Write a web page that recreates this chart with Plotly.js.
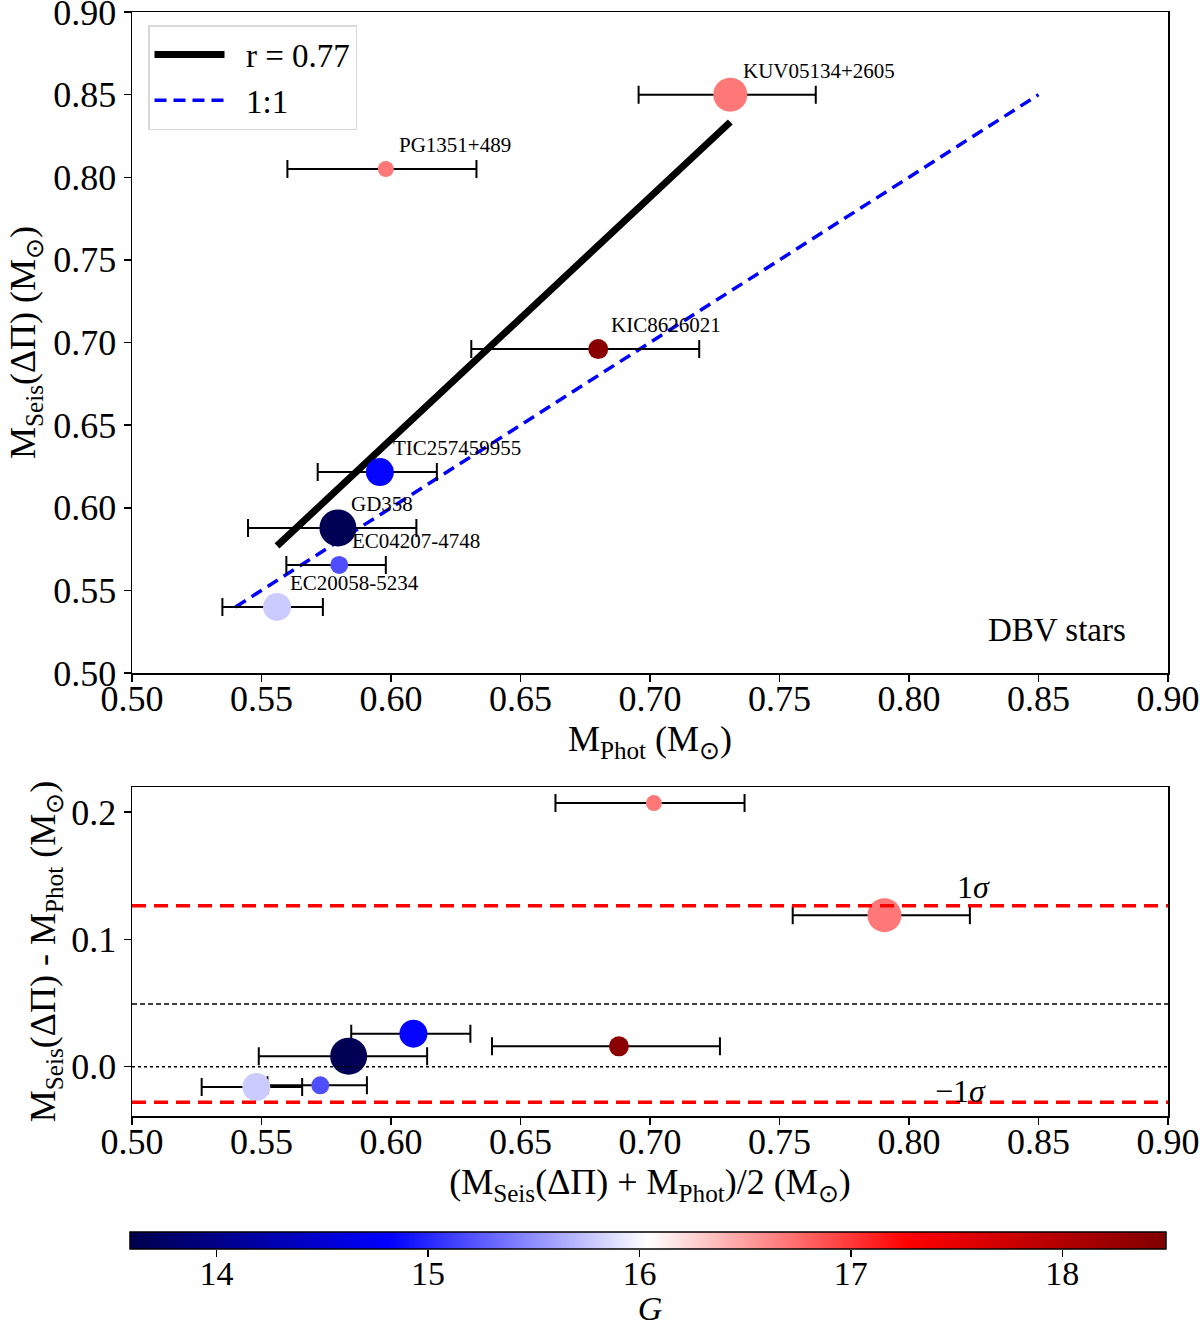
<!DOCTYPE html>
<html>
<head>
<meta charset="utf-8">
<script src="https://cdn.plot.ly/plotly-3.0.1.min.js"></script>
<style>html,body{margin:0;padding:0;background:#fff;overflow:hidden;}</style>
</head>
<body>
<div id="chart" style="width:1200px;height:1327px;"></div>
<script>
// ---- data ----
const starNames = ['KUV05134+2605','PG1351+489','KIC8626021','TIC257459955','GD358','EC04207-4748','EC20058-5234'];
const mPhot    = [0.731, 0.598, 0.680, 0.5957, 0.5795, 0.580, 0.556];
const mSeis    = [0.850, 0.805, 0.696, 0.6216, 0.5878, 0.5654, 0.540];
const errLo    = [0.0354, 0.038, 0.049, 0.024, 0.0347, 0.0204, 0.0211];
const errHi    = [0.033, 0.035, 0.039, 0.022, 0.0303, 0.018, 0.0177];
const gMag     = [16.7, 16.7, 18.4, 14.85, 13.65, 15.2, 15.8];
const markerSz = [34, 16, 20, 28, 37, 18, 28];
const fitX = [0.556, 0.731];
const fitY = [0.5769, 0.8334];
const oneToOne = [0.54, 0.85];
const sigmaLevels = [0.1263, -0.0279];
const meanDiff = 0.0492;
const gRange = [13.6, 18.5];
const xTicks = [0.50,0.55,0.60,0.65,0.70,0.75,0.80,0.85,0.90];
const yTicksTop = [0.50,0.55,0.60,0.65,0.70,0.75,0.80,0.85,0.90];
const yTicksBot = [0.0, 0.1, 0.2];
const cbTicks = [14,15,16,17,18];

// derived for the lower panel
const meanMass = mSeis.map((s,i)=>(s+mPhot[i])/2);
const diffMass = mSeis.map((s,i)=>s-mPhot[i]);

const seismic = [[0,'rgb(0,0,77)'],[0.25,'rgb(0,0,255)'],[0.5,'rgb(255,255,255)'],[0.75,'rgb(255,0,0)'],[1,'rgb(128,0,0)']];
const FONT = 'Liberation Serif, Times New Roman, serif';
const NB = '\u00a0';

const errStyle = {type:'data', symmetric:false, array:errHi, arrayminus:errLo, color:'black', thickness:2, width:9};

const traces = [
  {x:fitX, y:fitY, mode:'lines', name:NB+NB+'r = 0.77', line:{color:'black', width:7}, xaxis:'x', yaxis:'y', hoverinfo:'skip'},
  {x:oneToOne, y:oneToOne, mode:'lines', name:NB+NB+'1:1', line:{color:'#0000ff', width:3.5, dash:'12px,7px'}, xaxis:'x', yaxis:'y'},
  {x:mPhot, y:mSeis, mode:'markers', showlegend:false, xaxis:'x', yaxis:'y', text:starNames,
   error_x:errStyle,
   marker:{size:markerSz, color:gMag, colorscale:seismic, cmin:gRange[0], cmax:gRange[1], line:{width:0}, opacity:1, showscale:false}},
  {x:meanMass, y:diffMass, mode:'markers', showlegend:false, xaxis:'x2', yaxis:'y2', text:starNames,
   error_x:errStyle,
   marker:{size:markerSz, color:gMag, colorscale:seismic, cmin:gRange[0], cmax:gRange[1], line:{width:0}, opacity:1,
     showscale:true,
     colorbar:{orientation:'h', x:0.5400, xanchor:'center', y:1-1232/1327, yanchor:'top', xpad:0, ypad:0,
       len:1036, lenmode:'pixels', thickness:17, outlinecolor:'black', outlinewidth:1.5,
       ticks:'', showticklabels:false, tickvals:cbTicks,
       title:{text:''}}}},
  // empty trace that carries the colour-bar's G axis (ticks and labels)
  {x:[], y:[], mode:'markers', showlegend:false, xaxis:'x3', yaxis:'y3', hoverinfo:'skip'}
];

const axisBase = {showgrid:false, zeroline:false, showline:true, linecolor:'black', linewidth:1.5, mirror:true,
  ticks:'outside', ticklen:7, tickwidth:1.5, tickcolor:'black', automargin:false, ticklabeloverflow:'allow',
  tickfont:{family:FONT, size:36, color:'black'}};

const annotations = starNames.map((n,i)=>({x:mPhot[i], y:mSeis[i], xref:'x', yref:'y', text:n, showarrow:false,
  xanchor:'left', yanchor:'middle', xshift:11, yshift:24, font:{family:FONT, size:21, color:'black'}}));
annotations.push({x:0.893, y:0.065, xref:'x domain', yref:'y domain', text:'DBV stars', showarrow:false,
  xanchor:'center', yanchor:'middle', font:{family:FONT, size:33, color:'black'}});
annotations.push({x:0.825, y:0.141, xref:'x2', yref:'y2', text:'1<i>σ</i>', showarrow:false,
  xanchor:'center', yanchor:'middle', font:{family:FONT, size:32, color:'black'}});
annotations.push({x:0.820, y:-0.019, xref:'x2', yref:'y2', text:'−1<i>σ</i>', showarrow:false,
  xanchor:'center', yanchor:'middle', font:{family:FONT, size:32, color:'black'}});

const shapes = [];
sigmaLevels.forEach(v=>shapes.push({type:'line', xref:'x2 domain', yref:'y2', x0:0, x1:1, y0:v, y1:v,
  line:{color:'#ff0000', width:3.5, dash:'14px,8px'}}));
shapes.push({type:'line', xref:'x2 domain', yref:'y2', x0:0, x1:1, y0:meanDiff, y1:meanDiff, line:{color:'black', width:1.5, dash:'5px,3px'}});
shapes.push({type:'line', xref:'x2 domain', yref:'y2', x0:0, x1:1, y0:0, y1:0, line:{color:'black', width:1.5, dash:'dot'}});

const layout = {
  width:1200, height:1327, margin:{l:0, r:0, t:0, b:0, autoexpand:false}, paper_bgcolor:'white', plot_bgcolor:'white',
  font:{family:FONT, color:'black'},
  showlegend:true,
  legend:{x:148/1200, y:1-25/1327, xanchor:'left', yanchor:'top', bgcolor:'rgba(255,255,255,0.8)', bordercolor:'#d8d8d8', borderwidth:1.5,
    font:{family:FONT, size:33, color:'black'}, itemwidth:70, tracegroupgap:2},
  xaxis:Object.assign({}, axisBase, {domain:[132/1200, 1168/1200], range:[0.5,0.9], tickvals:xTicks, tickformat:'.2f', anchor:'y',
    ticklabelstandoff:-14,
    title:{text:'M<sub>Phot</sub> (M<sub>⊙</sub>)', font:{family:FONT, size:36, color:'black'}, standoff:8}}),
  yaxis:Object.assign({}, axisBase, {domain:[1-673/1327, 1-12/1327], range:[0.5,0.9], tickvals:yTicksTop, tickformat:'.2f', anchor:'x',
    title:{text:'M<sub>Seis</sub>(ΔΠ) (M<sub>⊙</sub>)', font:{family:FONT, size:36, color:'black'}, standoff:6}}),
  xaxis2:Object.assign({}, axisBase, {domain:[132/1200, 1168/1200], range:[0.5,0.9], tickvals:xTicks, tickformat:'.2f', anchor:'y2',
    ticklabelstandoff:-14,
    title:{text:'(M<sub>Seis</sub>(ΔΠ) + M<sub>Phot</sub>)/2 (M<sub>⊙</sub>)', font:{family:FONT, size:36, color:'black'}, standoff:8}}),
  yaxis2:Object.assign({}, axisBase, {domain:[1-1116/1327, 1-787/1327], range:[-0.0387,0.2196], tickvals:yTicksBot, tickformat:'.1f', anchor:'x2',
    title:{text:'M<sub>Seis</sub>(ΔΠ) - M<sub>Phot</sub> (M<sub>⊙</sub>)', font:{family:FONT, size:36, color:'black'}, standoff:4}}),
  xaxis3:{domain:[132/1200, 1168/1200], range:gRange, anchor:'y3', side:'bottom', showgrid:false, zeroline:false, showline:false,
    ticks:'outside', ticklen:7, tickwidth:1.5, tickcolor:'black', tickvals:cbTicks, automargin:false, ticklabeloverflow:'allow',
    ticklabelstandoff:-13, fixedrange:true,
    tickfont:{family:FONT, size:34, color:'black'},
    title:{text:'<i>G</i>', font:{family:FONT, size:34, color:'black'}, standoff:5}},
  yaxis3:{domain:[1-1249/1327, 1-1232/1327], visible:false, range:[0,1], fixedrange:true, anchor:'x3'},
  annotations:annotations,
  shapes:shapes
};

Plotly.newPlot('chart', traces, layout, {displayModeBar:false, staticPlot:true});
</script>
</body>
</html>
